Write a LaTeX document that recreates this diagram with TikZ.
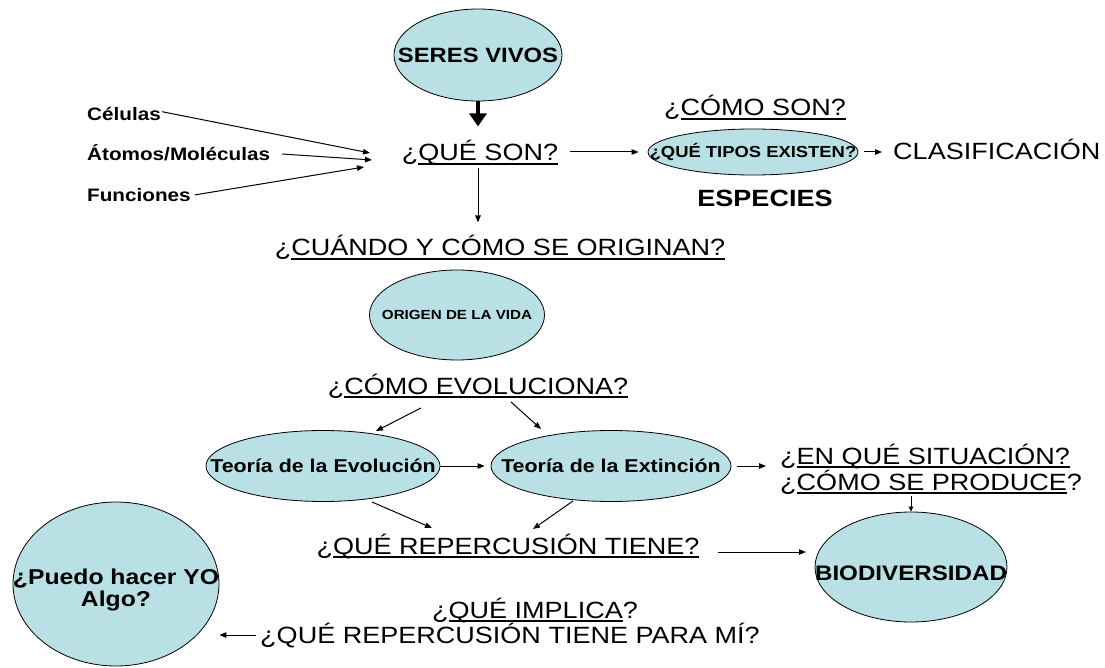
\documentclass[tikz,border=0pt]{standalone}
\usepackage{fontspec}
\setmainfont[FakeStretch=1.15]{Liberation Sans}
\usetikzlibrary{shapes.geometric,arrows.meta}
\definecolor{bubble}{RGB}{185,224,229}
\newcommand\myul[1]{\setbox0\hbox{#1}\rlap{\vrule height -2.0pt depth 3.6pt width \wd0}\box0}
\newcommand\fsz[1]{\fontsize{#1}{#1}\selectfont}
\tikzset{
  bub/.style={ellipse, draw, fill=bubble, line width=0.8pt, inner sep=0pt},
  qtext/.style={font=\fsz{23.5}, inner sep=0pt, anchor=base},
  btext/.style={font=\bfseries\fsz{#1}, inner sep=0pt},
  arr/.style={-{Triangle[length=7pt,width=5.5pt]}, line width=1pt},
  sarr/.style={-{Triangle[length=5pt,width=4.5pt]}, line width=1pt},
  bigarr/.style={-{Triangle[length=13pt,width=17pt]}, line width=4pt}
}
\begin{document}
\begin{tikzpicture}[x=1pt,y=-1pt]
\useasboundingbox (0,0) rectangle (1105,668);
% bubbles
\node[bub, minimum width=168pt, minimum height=92pt] (seres) at (478,55) {};
\node[btext=20.7] (seresT) at (seres) {SERES VIVOS};
\node[bub, minimum width=210pt, minimum height=46pt] (tipos) at (753,152) {};
\node[btext=16] (tiposT) at (tipos) {¿QUÉ TIPOS EXISTEN?};
\node[bub, minimum width=175pt, minimum height=90pt] (origen) at (457,315) {};
\node[btext=13.2] (origenT) at (origen) {ORIGEN DE LA VIDA};
\node[bub, minimum width=234pt, minimum height=71pt] (evo) at (323,466) {};
\node[btext=18.6] (evoT) at (evo) {Teoría de la Evolución};
\node[bub, minimum width=240pt, minimum height=71pt] (ext) at (611,466) {};
\node[btext=18.6] (extT) at (ext) {Teoría de la Extinción};
\node[bub, minimum width=192pt, minimum height=110pt] (bio) at (911,567) {};
\node[btext=21] (bioT) at (911,573) {BIODIVERSIDAD};
\node[bub, minimum width=206pt, minimum height=164pt] (puedo) at (116,584) {};
\node[btext=21.5, align=center] (puedoT) at (116,590) {¿Puedo hacer YO\\[0pt]Algo?};
% texts
\node[qtext] (qson) at (480,161) {¿\myul{QUÉ SON?}};
\node[qtext] (comoson) at (755,116) {¿\myul{CÓMO SON?}};
\node[qtext, anchor=base west] (clasif) at (893,160) {CLASIFICACIÓN};
\node[btext=23.5, anchor=base] (especies) at (765,207) {ESPECIES};
\node[btext=18, anchor=base west] (celulas) at (87,121) {Células};
\node[btext=18, anchor=base west] (atomos) at (87,161) {Átomos/Moléculas};
\node[btext=18, anchor=base west] (funciones) at (87,202) {Funciones};
\node[qtext] (cuando) at (500,256) {¿\myul{CUÁNDO Y CÓMO SE ORIGINAN?}};
\node[qtext] (evoluc) at (478,394) {¿\myul{CÓMO EVOLUCIONA?}};
\node[qtext, anchor=base west] (situacion) at (780,464) {¿\myul{EN QUÉ SITUACIÓN?}};
\node[qtext, anchor=base west] (produce) at (780,490) {¿\myul{CÓMO SE PRODUCE}?};
\node[qtext] (repercusion) at (508,554) {¿\myul{QUÉ REPERCUSIÓN TIENE?}};
\node[qtext] (implica) at (535,618) {¿\myul{QUÉ IMPLICA}?};
\node[qtext] (parami) at (510,643) {¿QUÉ REPERCUSIÓN TIENE PARA MÍ?};
% free ends
\coordinate (c1) at (370,153);
\coordinate (c2) at (372,160);
\coordinate (c3) at (364,167);
\coordinate (e1s) at (421,408);
\coordinate (e1e) at (376,431);
\coordinate (e2s) at (511,402);
\coordinate (e2e) at (541,429);
\coordinate (r1s) at (372,502);
\coordinate (r1e) at (432,528);
\coordinate (r2s) at (573,501);
\coordinate (r2e) at (533,529);
\coordinate (b1) at (718,552);
\coordinate (b2) at (806,552);
% connectors
\draw[bigarr, shorten >=14pt] (seres.south) -- (seres.south |- qson.north);
\draw[arr, shorten <=1pt] ([yshift=3pt]celulas.east) -- (c1);
\draw[arr, shorten <=12pt] (atomos.east) -- (c2);
\draw[arr, shorten <=4pt] (funciones.east) -- (c3);
\draw[arr, shorten <=12pt, shorten >=9pt] (tipos.west -| qson.east) -- (tipos.west);
\draw[arr, shorten <=6pt, shorten >=11pt] (tipos.east) -- (tipos.east -| clasif.west);
\draw[arr, shorten <=2pt, shorten >=13pt] (seres.south |- qson.south) -- (seres.south |- cuando.north);
\draw[arr] (e1s) -- (e1e);
\draw[arr] (e2s) -- (e2e);
\draw[arr, shorten >=6pt] (evo.east) -- (ext.west);
\draw[arr, shorten <=6pt, shorten >=14pt] (ext.east) -- (ext.east -| situacion.west);
\draw[sarr, shorten <=2pt] (bio.north |- produce.south) -- (bio.north);
\draw[arr] (r1s) -- (r1e);
\draw[arr] (r2s) -- (r2e);
\draw[arr] (b1) -- (b2);
\draw[arr, shorten <=4pt] (parami.west) -- (parami.west -| puedo.east);
\end{tikzpicture}
\end{document}
